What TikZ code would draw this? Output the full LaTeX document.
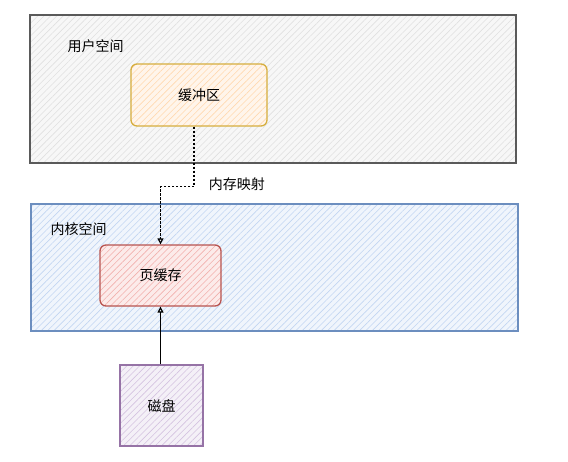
\documentclass[tikz,border=0pt]{standalone}
\usepackage{fontspec}
\setmainfont{Noto Sans CJK SC}
\usetikzlibrary{patterns.meta,arrows.meta}

\definecolor{usrline}{HTML}{5A5A5A}
\definecolor{usrfill}{HTML}{E0E0E0}
\definecolor{kerline}{HTML}{6C8EBF}
\definecolor{kerfill}{HTML}{C2D6F2}
\definecolor{bufline}{HTML}{D6AE3E}
\definecolor{buffill}{HTML}{FFD9B0}
\definecolor{pgline}{HTML}{B85450}
\definecolor{pgfill}{HTML}{F2B0AD}
\definecolor{dskline}{HTML}{9673A6}
\definecolor{dskfill}{HTML}{D4C2E0}

\tikzset{
  hatched/.style={preaction={fill=#1!25}, pattern={Lines[angle=45,distance=4.5pt,line width=0.6pt]}, pattern color=#1},
  region/.style={draw, line width=1.3pt, inner sep=0pt},
  block/.style={draw, line width=1.3pt, rounded corners=6pt, inner sep=0pt},
}

\begin{document}
\begin{tikzpicture}[x=1pt, y=-1pt, font=\fontsize{14}{16}\selectfont]
    \useasboundingbox (0,0) rectangle (568,461);

    \begin{scope}[every node/.style={region}]
        \node (usr) at (273,89) [draw=usrline, hatched=usrfill, minimum width=486pt, minimum height=148pt] {};
        \node (ker) at (274.5,267.5) [draw=kerline, hatched=kerfill, minimum width=487pt, minimum height=127pt] {};
    \end{scope}

    \node [anchor=west] (usrlbl) at (64,46) {用户空间};
    \node [anchor=west] (kerlbl) at (47,229) {内核空间};

    \begin{scope}[every node/.style={block}]
        \node (buf) at (199,95) [draw=bufline, hatched=buffill, minimum width=136pt, minimum height=62pt] {缓冲区};
        \node (page) at (160.5,275.5) [draw=pgline, hatched=pgfill, minimum width=121pt, minimum height=61pt] {页缓存};
        \node (disk) at (161.5,405.5) [draw=dskline, hatched=dskfill, rounded corners=0pt, minimum width=83pt, minimum height=81pt] {磁盘};
    \end{scope}

    \begin{scope}[every path/.style={line width=1.2pt}]
        \draw [dashed, dash pattern=on 2.5pt off 1.5pt, -{Triangle[open, length=6pt, width=6pt]}] ([xshift=-5pt]buf.south) -- ++(0,60) -| (page.north);
        \node [anchor=west] (maplbl) at (205,184) {内存映射};
        \draw [-{Triangle[open, length=6pt, width=6pt]}] (disk.north -| page.south) -- (page.south);
    \end{scope}
\end{tikzpicture}
\end{document}
